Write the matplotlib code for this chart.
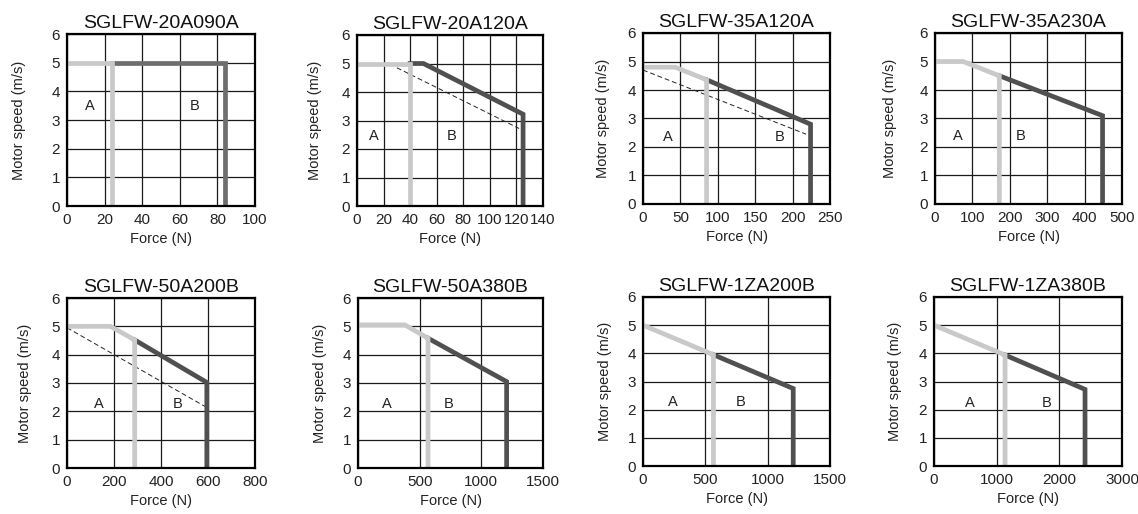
import matplotlib
matplotlib.use("Agg")
import matplotlib.pyplot as plt

plt.rcParams['font.family'] = ['Liberation Sans', 'DejaVu Sans']

# model names and axes ranges
models = ['SGLFW-20A090A', 'SGLFW-20A120A', 'SGLFW-35A120A', 'SGLFW-35A230A',
          'SGLFW-50A200B', 'SGLFW-50A380B', 'SGLFW-1ZA200B', 'SGLFW-1ZA380B']
x_max = [100, 140, 250, 500, 800, 1500, 1500, 3000]
x_step = [20, 20, 50, 100, 200, 500, 500, 1000]

# region A (light) curve: force, speed
a_force = [[0, 24, 24], [0, 40, 40], [0, 43, 85, 85], [0, 75, 172, 172],
           [0, 185, 288, 288], [0, 380, 568, 568], [0, 565, 565], [0, 1134, 1134]]
a_speed = [[5, 5, 0], [5, 5, 0], [4.8, 4.8, 4.36, 0], [5, 5, 4.5, 0],
           [5, 5, 4.52, 0], [5.05, 5.05, 4.58, 0], [5, 3.95, 0], [5, 3.94, 0]]

# region B (dark) curve
b_force = [[24, 84, 84], [40, 50, 125, 125], [85, 224, 224], [172, 448, 448],
           [288, 595, 595], [568, 1205, 1205], [565, 1205, 1205], [1134, 2410, 2410]]
b_speed = [[5, 5, 0], [5, 5, 3.22, 0], [4.36, 2.8, 0], [4.5, 3.1, 0],
           [4.52, 3.02, 0], [4.58, 3.05, 0], [3.95, 2.75, 0], [3.94, 2.72, 0]]

# dashed reference line (only some models)
d_force = [[], [30, 122], [0, 218], [], [0, 592], [], [], []]
d_speed = [[], [4.85, 2.72], [4.7, 2.45], [], [4.95, 2.15], [], [], []]

# "A" / "B" label positions
lab_a = [(12, 3.5), (12.5, 2.45), (33, 2.35), (61, 2.4),
         (135, 2.25), (233, 2.25), (240, 2.28), (572, 2.22)]
lab_b = [(68, 3.5), (71, 2.45), (183, 2.35), (228, 2.4),
         (472, 2.25), (737, 2.25), (784, 2.28), (1791, 2.22)]

dark_cols = ['#6e6e6e'] + ['#505050'] * 7
light_col = '#c9c9c9'

# axes boxes in pixels: left, right, top, bottom
boxes = [(67, 255, 34, 206), (357, 543, 35, 206), (643, 830, 33, 204), (935, 1122, 33, 204),
         (67, 255, 298, 468), (358, 543, 298, 468), (643, 830, 297, 466), (934, 1122, 297, 466)]
# right edge (pixels) of the rotated y label
ylab_x = [26, 322, 610, 897, 32, 327, 612, 902]

W, H = 1138, 514
fig = plt.figure(figsize=(W / 100, H / 100), dpi=100)

for i in range(8):
    l, r, t, b = boxes[i]
    ax = fig.add_axes([l / W, 1 - b / H, (r - l) / W, (b - t) / H])
    ax.set_xlim(0, x_max[i])
    ax.set_ylim(0, 6)
    ax.set_xticks(range(0, x_max[i] + 1, x_step[i]))
    ax.set_yticks(range(0, 7))
    ax.grid(True, color='#1a1a1a', linewidth=0.9)
    ax.set_axisbelow(True)
    ax.tick_params(length=0, labelsize=11, pad=5, colors='#222222')
    for s in ax.spines.values():
        s.set_linewidth(1.6)
        s.set_color('black')
    if d_force[i]:
        ax.plot(d_force[i], d_speed[i], color='#222222', lw=0.7, ls=(0, (5, 3)))
    ax.plot(b_force[i], b_speed[i], color=dark_cols[i], lw=3.4, solid_joinstyle='miter')
    ax.plot(a_force[i], a_speed[i], color=light_col, lw=3.4, solid_joinstyle='miter')
    ax.text(lab_a[i][0], lab_a[i][1], 'A', fontsize=10.5, ha='center', va='center', color='#222222')
    ax.text(lab_b[i][0], lab_b[i][1], 'B', fontsize=10.5, ha='center', va='center', color='#222222')
    ax.set_title(models[i], fontsize=14, pad=4, color='#111111')
    ax.set_xlabel('Force (N)', fontsize=10.5, color='#222222', labelpad=4)
    ax.set_ylabel('Motor speed (m/s)', fontsize=10.5, color='#222222')
    ax.yaxis.set_label_coords((ylab_x[i] - l) / (r - l), 0.5)

fig.savefig('out.png', dpi=100)
